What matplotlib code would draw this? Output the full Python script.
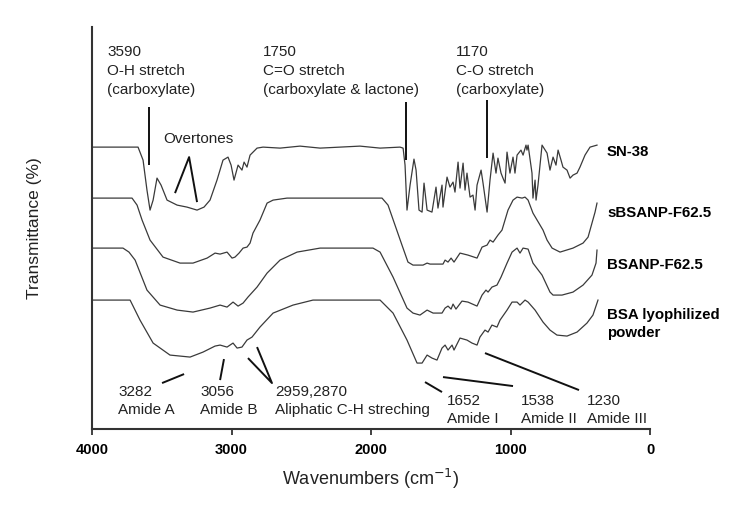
import matplotlib.pyplot as plt

plt.rcParams['font.family'] = ['Liberation Sans', 'DejaVu Sans']

# FTIR spectra, wavenumber (cm-1) vs offset transmittance (arb. units)
sn38_wn = [4000, 3670, 3634, 3606, 3584, 3562, 3534, 3505, 3462, 3390, 3319, 3247, 3197, 3154,
           3104, 3061, 3025, 3003, 2982, 2953, 2925, 2910, 2889, 2867, 2817, 2774, 2652, 2509,
           2365, 2222, 2079, 1935, 1792, 1770, 1756, 1742, 1720, 1692, 1677, 1656, 1634, 1620,
           1598, 1563, 1534, 1520, 1491, 1484, 1455, 1434, 1412, 1398, 1376, 1362, 1340, 1326,
           1312, 1290, 1269, 1254, 1240, 1211, 1197, 1168, 1147, 1125, 1104, 1090, 1068, 1054,
           1039, 1025, 1004, 982, 968, 953, 925, 910, 889, 882, 874, 846, 839, 824, 817, 803,
           774, 738, 717, 695, 674, 659, 638, 624, 595, 573, 552, 523, 502, 466, 430, 380]
sn38_t = [282, 282, 269, 239, 219, 229, 251, 244, 229, 224, 222, 219, 222, 229,
          249, 269, 272, 264, 249, 264, 259, 267, 262, 274, 281, 282, 281, 283,
          281, 282, 283, 281, 282, 281, 264, 219, 244, 270, 259, 219, 217, 246,
          219, 217, 242, 221, 244, 222, 252, 242, 247, 237, 267, 241, 266, 239,
          256, 232, 234, 219, 244, 259, 246, 217, 249, 276, 256, 271, 256, 251,
          246, 277, 256, 272, 256, 274, 279, 274, 284, 279, 284, 256, 231, 249, 229, 244,
          284, 276, 259, 272, 264, 279, 269, 262, 259, 251, 254, 256, 262, 274, 282, 284]

sbsanp_wn = [4000, 3713, 3677, 3641, 3584, 3491, 3369, 3276, 3175, 3118, 3082, 3032, 2996,
             2975, 2946, 2917, 2889, 2867, 2846, 2796, 2745, 2702, 2602, 1921, 1878, 1828,
             1778, 1735, 1699, 1627, 1598, 1577, 1484, 1469, 1448, 1426, 1405, 1362, 1305,
             1240, 1204, 1168, 1147, 1125, 1090, 1061, 1018, 982, 953, 917, 896, 874, 839,
             767, 738, 702, 645, 552, 480, 444, 394, 380]
sbsanp_t = [231, 231, 224, 209, 189, 172, 166, 166, 171, 176, 175, 177, 171,
            172, 176, 181, 182, 186, 196, 209, 226, 229, 231, 231, 224, 204,
            184, 167, 164, 164, 166, 165, 165, 169, 167, 171, 167, 176, 174,
            171, 182, 184, 189, 187, 194, 199, 219, 229, 232, 231, 232, 229, 216,
            199, 189, 181, 177, 181, 186, 192, 217, 226]

bsanp_wn = [4000, 3778, 3735, 3691, 3606, 3512, 3390, 3276, 3154, 3082, 3032, 2989, 2953,
            2917, 2882, 2817, 2745, 2652, 2530, 2365, 1986, 1935, 1842, 1742, 1699, 1649,
            1598, 1555, 1491, 1469, 1448, 1426, 1412, 1391, 1348, 1305, 1240, 1204, 1176,
            1161, 1133, 1097, 1068, 1025, 989, 953, 932, 910, 874, 839, 774, 717, 695, 631,
            552, 480, 416, 387, 380]
bsanp_t = [181, 181, 177, 169, 139, 124, 119, 117, 121, 124, 122, 127, 123,
           126, 132, 142, 156, 169, 177, 181, 181, 177, 152, 121, 116, 114,
           119, 116, 116, 121, 123, 120, 125, 120, 128, 127, 123, 134, 139,
           137, 142, 144, 152, 166, 177, 181, 176, 181, 180, 166, 154, 137, 134, 134,
           137, 144, 154, 166, 179]

bsa_wn = [4000, 3727, 3656, 3562, 3441, 3297, 3204, 3118, 3082, 3032, 2989, 2960, 2925,
          2889, 2853, 2796, 2702, 2559, 2416, 2029, 1935, 1842, 1742, 1670, 1634, 1598,
          1563, 1527, 1491, 1469, 1448, 1419, 1405, 1362, 1312, 1276, 1240, 1219, 1183,
          1161, 1133, 1097, 1075, 1025, 989, 953, 932, 896, 874, 824, 767, 717, 667, 595,
          523, 452, 409, 373]
bsa_t = [129, 129, 109, 86, 74, 72, 77, 83, 84, 82, 86, 81, 82,
         89, 92, 102, 116, 124, 129, 129, 129, 116, 89, 66, 66, 74,
         71, 69, 81, 84, 79, 84, 79, 91, 89, 86, 84, 92, 99,
         97, 104, 102, 109, 119, 127, 127, 124, 129, 127, 119, 107, 99, 94, 93,
         97, 106, 114, 129]

line_color = '#3a3a3a'

fig = plt.figure(figsize=(7.45, 5.12), dpi=100)
ax = fig.add_axes([0.1235, 0.162, 0.749, 0.785])

ax.plot(sn38_wn, sn38_t, color=line_color, lw=0.9)
ax.plot(sbsanp_wn, sbsanp_t, color=line_color, lw=0.9)
ax.plot(bsanp_wn, bsanp_t, color=line_color, lw=0.9)
ax.plot(bsa_wn, bsa_t, color=line_color, lw=0.9)

ax.set_xlim(4000, 0)
ax.set_ylim(0, 402)
ax.set_xticks([4000, 3000, 2000, 1000, 0])
ax.set_xticklabels(['4000', '3000', '2000', '1000', '0'], fontweight='bold', fontsize=10.5)
ax.set_yticks([])
ax.tick_params(axis='x', direction='out', length=4, width=1.3, color='#333333', pad=6)
for s in ['top', 'right']:
    ax.spines[s].set_visible(False)
for s in ['left', 'bottom']:
    ax.spines[s].set_linewidth(1.5)
    ax.spines[s].set_color('#333333')

ax.set_xlabel('Wavenumbers (cm$^{-1}$)', fontsize=13, labelpad=7, color='#222222')
ax.set_ylabel('Transmittance (%)', fontsize=12.5, labelpad=36, color='#222222')

# series names
fs = 10.8
ax.text(308, 277, 'SN-38', fontsize=fs, fontweight='bold', va='center', ha='left')
ax.text(308, 216, 'sBSANP-F62.5', fontsize=fs, fontweight='bold', va='center', ha='left')
ax.text(308, 164, 'BSANP-F62.5', fontsize=fs, fontweight='bold', va='center', ha='left')
ax.text(308, 105, 'BSA lyophilized\npowder', fontsize=fs, fontweight='bold', va='center',
        ha='left', linespacing=1.3)

# peak assignments
afs = 11
tc = '#222222'
ax.text(3892, 384, '3590\nO-H stretch\n(carboxylate)', fontsize=afs, va='top', linespacing=1.45, color=tc)
ax.text(2774, 384, '1750\nC=O stretch\n(carboxylate & lactone)', fontsize=afs, va='top', linespacing=1.45, color=tc)
ax.text(1391, 384, '1170\nC-O stretch\n(carboxylate)', fontsize=afs, va='top', linespacing=1.45, color=tc)
ax.text(3491, 290, 'Overtones', fontsize=afs, va='center', color=tc)

ax.text(3813, 44, '3282\nAmide A', fontsize=afs, va='top', linespacing=1.35, color=tc)
ax.text(3226, 44, '3056\nAmide B', fontsize=afs, va='top', linespacing=1.35, color=tc)
ax.text(2688, 44, '2959,2870\nAliphatic C-H streching', fontsize=afs, va='top', linespacing=1.35, color=tc)
ax.text(1455, 35, '1652\nAmide I', fontsize=afs, va='top', linespacing=1.35, color=tc)
ax.text(925, 35, '1538\nAmide II', fontsize=afs, va='top', linespacing=1.35, color=tc)
ax.text(452, 35, '1230\nAmide III', fontsize=afs, va='top', linespacing=1.35, color=tc)

lk = dict(color='#111111', lw=1.4, solid_capstyle='butt')
ax.plot([3590, 3590], [322, 264], **lk)
ax.plot([1750, 1750], [327, 269], **lk)
ax.plot([1170, 1170], [329, 271], **lk)
ax.plot([3405, 3304, 3247], [236, 272, 227], **lk)
ax.plot([3498, 3340], [46, 55], **lk)
ax.plot([3082, 3054], [49, 70], **lk)
ax.plot([2882, 2710, 2817], [71, 46, 82], **lk)
ax.plot([1491, 1613], [37, 47], **lk)
ax.plot([982, 1484], [43, 52], **lk)
ax.plot([509, 1183], [39, 76], **lk)

plt.savefig('out.png', dpi=100)
